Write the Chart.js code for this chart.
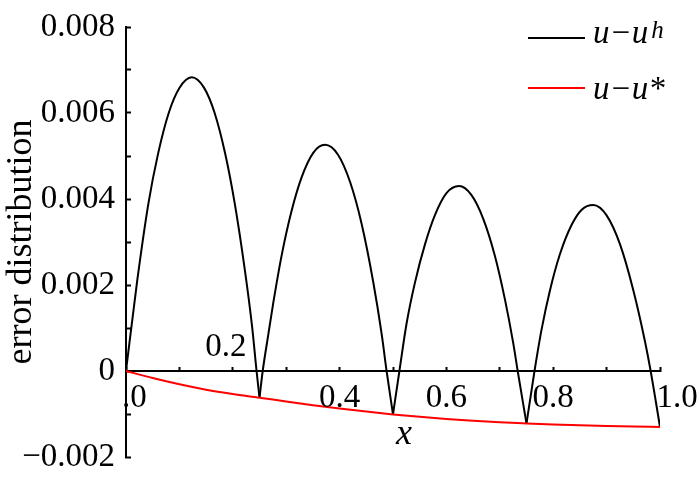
<!DOCTYPE html>
<html>
<head>
<meta charset="utf-8">
<script src="https://cdn.jsdelivr.net/npm/chart.js@4.4.0/dist/chart.umd.min.js"></script>
<style>
  html, body { margin: 0; padding: 0; background: #fff; }
  canvas { display: block; }
</style>
</head>
<body>
<canvas id="myChart" width="700" height="482"></canvas>
<script>
// u - u^h (one arch per element, nodes shared)
const blackX = [
    [0, 0.021, 0.042, 0.06, 0.08, 0.10, 0.123, 0.146, 0.166, 0.186, 0.204, 0.222, 0.236, 0.2445, 0.25],
    [0.25, 0.256, 0.266, 0.276, 0.2915, 0.31, 0.329, 0.351, 0.3727, 0.397, 0.4195, 0.4413, 0.463, 0.479, 0.488, 0.5],
    [0.5, 0.512, 0.5255, 0.541, 0.56, 0.5787, 0.6005, 0.6236, 0.647, 0.669, 0.691, 0.7097, 0.725, 0.7335, 0.75],
    [0.75, 0.765, 0.778, 0.794, 0.8127, 0.8346, 0.8534, 0.875, 0.9, 0.925, 0.95, 0.972, 0.9825, 1.0]
];
const blackY = [
    [0, 0.0021, 0.0039, 0.00505, 0.006, 0.00658, 0.00683, 0.00659, 0.006, 0.00504, 0.00387, 0.0024, 0.00105, 0, -0.00062],
    [-0.00062, 0, 0.00081, 0.0016, 0.00269, 0.00372, 0.00451, 0.00508, 0.00526, 0.00503, 0.0044, 0.00342, 0.00207, 0.00084, 0, -0.00101],
    [-0.00101, 0, 0.00111, 0.00205, 0.00295, 0.00363, 0.00414, 0.0043, 0.00409, 0.00354, 0.00267, 0.00166, 0.00066, 0, -0.00122],
    [-0.00122, 0, 0.00095, 0.00188, 0.00272, 0.0034, 0.00375, 0.00386, 0.00362, 0.00295, 0.00188, 0.00068, 0, -0.0013]
];

// u - u*
const redX = [0, 0.05, 0.1, 0.15, 0.2, 0.25, 0.3, 0.35, 0.4, 0.45, 0.5, 0.55, 0.6, 0.65, 0.7, 0.75, 0.8, 0.85, 0.9, 0.95, 1.0];
const redY = [0, -0.000165, -0.00031, -0.000435, -0.000535, -0.00062, -0.00071, -0.000795, -0.000872, -0.000944, -0.00101,
    -0.001066, -0.001116, -0.001158, -0.001193, -0.00122, -0.001244, -0.001264, -0.00128, -0.001292, -0.0013];

const seriesNames = ['u\u2212u', 'u\u2212u'];
const seriesSup = ['h', '*'];
const xTickVals = [0, 0.2, 0.4, 0.6, 0.8, 1.0];
const xTickText = ['0.0', '0.2', '0.4', '0.6', '0.8', '1.0'];

const FONT = '"Liberation Serif", "Times New Roman", serif';

const toPoints = (xs, ys) => xs.map((x, i) => ({ x: x, y: ys[i] }));

const datasets = [{
    label: 'u-u*',
    data: toPoints(redX, redY),
    borderColor: '#ff0000',
    borderWidth: 2,
    pointRadius: 0,
    showLine: true,
    cubicInterpolationMode: 'monotone'
}];
blackX.forEach((xs, i) => {
    datasets.push({
        label: 'u-uh',
        data: toPoints(xs, blackY[i]),
        borderColor: '#000000',
        borderWidth: 2,
        pointRadius: 0,
        showLine: true,
        cubicInterpolationMode: 'monotone'
    });
});

// x tick labels sit on both sides of the y=0 axis in the original
const labelDx = [0, -7, 0, 0, 0, 17];
const labelAbove = [false, true, false, false, false, false];

const extras = {
    id: 'extras',
    afterDraw(chart) {
        const ctx = chart.ctx;
        const xs = chart.scales.x;
        const ys = chart.scales.y;
        const area = chart.chartArea;
        const y0 = ys.getPixelForValue(0);

        ctx.save();
        ctx.fillStyle = '#000';
        ctx.font = '33px ' + FONT;
        ctx.textAlign = 'center';
        ctx.textBaseline = 'middle';
        ctx.beginPath();
        ctx.rect(area.left - 3, 0, chart.width, chart.height);
        ctx.clip();
        xTickVals.forEach((v, i) => {
            const px = xs.getPixelForValue(v) + labelDx[i];
            const py = labelAbove[i] ? y0 - 24 : y0 + 27;
            ctx.fillText(xTickText[i], px, py);
        });
        ctx.restore();

        // axis title
        ctx.save();
        ctx.fillStyle = '#000';
        ctx.font = 'italic 36px ' + FONT;
        ctx.textAlign = 'center';
        ctx.textBaseline = 'middle';
        ctx.fillText('x', (area.left + area.right) / 2 + 11, y0 + 64);
        ctx.restore();

        // legend
        const colors = ['#000000', '#ff0000'];
        const lineY = [38, 88];
        const baseY = [43, 99];
        ctx.save();
        seriesNames.forEach((name, i) => {
            ctx.strokeStyle = colors[i];
            ctx.lineWidth = 2;
            ctx.beginPath();
            ctx.moveTo(528, lineY[i]);
            ctx.lineTo(585, lineY[i]);
            ctx.stroke();
            ctx.fillStyle = '#000';
            ctx.textAlign = 'left';
            ctx.textBaseline = 'alphabetic';
            ctx.font = 'italic 33px ' + FONT;
            ctx.fillText(name, 593, baseY[i]);
            const w = ctx.measureText(name).width;
            if (seriesSup[i] === 'h') {
                ctx.font = 'italic 25px ' + FONT;
                ctx.fillText(seriesSup[i], 593 + w + 3, baseY[i] - 5);
            } else {
                ctx.fillText(seriesSup[i], 593 + w, baseY[i]);
            }
        });
        ctx.restore();
    }
};

new Chart(document.getElementById('myChart'), {
    type: 'scatter',
    data: { datasets: datasets },
    options: {
        responsive: false,
        animation: false,
        devicePixelRatio: 1,
        layout: { padding: { left: 0, right: 40, top: 27, bottom: 25 } },
        plugins: {
            legend: { display: false },
            tooltip: { enabled: false }
        },
        scales: {
            x: {
                type: 'linear',
                min: 0,
                max: 1,
                position: { y: 0 },
                ticks: {
                    stepSize: 0.1,
                    callback: () => ''
                },
                grid: {
                    drawOnChartArea: false,
                    tickLength: -5,
                    tickWidth: 2,
                    tickColor: '#000'
                },
                border: { color: '#000', width: 2 }
            },
            y: {
                min: -0.002,
                max: 0.008,
                afterFit(scale) {
                    scale.width = 126;
                    scale.paddingTop = 0;
                    scale.paddingBottom = 0;
                },
                ticks: {
                    stepSize: 0.001,
                    color: '#000',
                    padding: 16,
                    font: { family: FONT, size: 33 },
                    callback: (v) => {
                        const k = Math.round(v * 1000);
                        if (k % 2 !== 0) return '';
                        if (k === 0) return '0';
                        return (k < 0 ? '\u2212' : '') + (Math.abs(k) / 1000).toFixed(3);
                    }
                },
                grid: {
                    drawOnChartArea: false,
                    tickLength: -5,
                    tickWidth: 2,
                    tickColor: '#000'
                },
                border: { color: '#000', width: 2 },
                title: {
                    display: true,
                    text: 'error distribution',
                    color: '#000',
                    padding: 0,
                    font: { family: FONT, size: 36 }
                }
            }
        }
    },
    plugins: [extras]
});
</script>
</body>
</html>
